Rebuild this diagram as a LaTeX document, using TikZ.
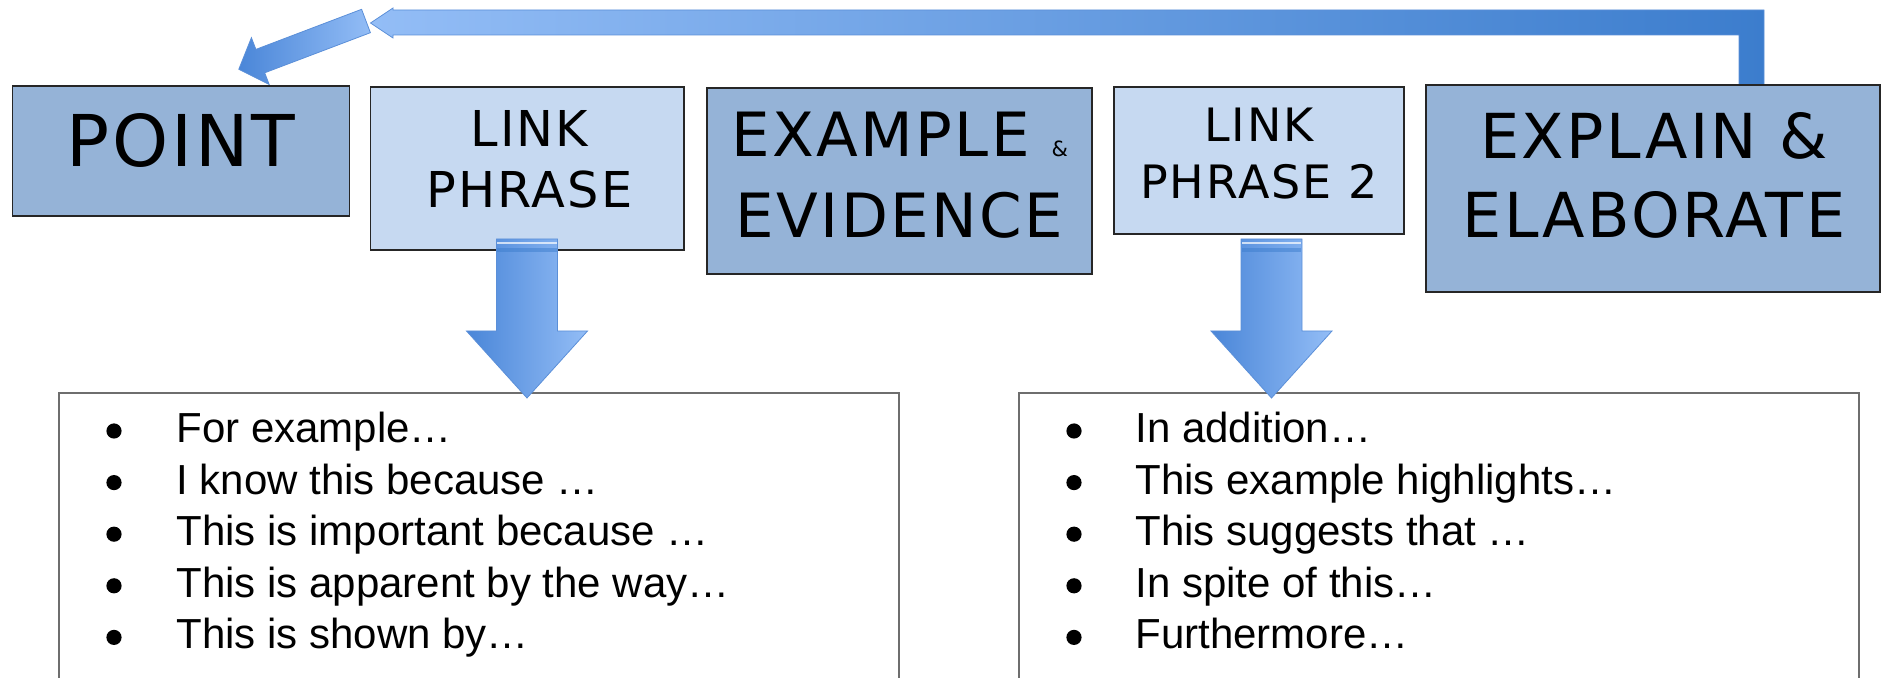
\documentclass[tikz,border=0pt]{standalone}
\usepackage{fontspec}
\setmainfont{Liberation Sans}
\newfontfamily\headfont{DejaVu Sans}[LetterSpace=4.0]
\definecolor{midblue}{HTML}{95B3D7}
\definecolor{lightblue}{HTML}{C6D9F1}
\definecolor{boxline}{HTML}{262626}
\definecolor{listline}{HTML}{6E6E6E}
\definecolor{arrowlight}{HTML}{93BDF6}
\definecolor{arrowdark}{HTML}{3C7DCD}
\definecolor{arrowmid}{HTML}{4A86D8}
\definecolor{arrowedge}{HTML}{5B8FD8}
\begin{document}
\begin{tikzpicture}[x=0.5pt,y=-0.5pt,
  midbox/.style={draw=boxline,line width=0.75pt,fill=midblue,inner sep=0pt},
  lightbox/.style={draw=boxline,line width=0.75pt,fill=lightblue,inner sep=0pt},
  headtxt/.style={align=center,inner sep=0pt},
  listbox/.style={draw=listline,line width=0.6pt,fill=white,inner sep=0pt,
    minimum width=420pt,minimum height=153.5pt},
  listtxt/.style={anchor=north west,inner sep=0pt,font=\fontsize{21}{25.8}\selectfont},
  blockarrow/.style={draw=arrowedge,line width=0.4pt}]
\useasboundingbox (0,0) rectangle (1886,678);
  % return arrow from explain back to point
  \draw[blockarrow,left color=arrowlight,right color=arrowdark]
    (1739,86) -- (1739,35) -- (393,35) -- (393,38) -- (370.5,23)
    -- (393,8) -- (393,10) -- (1764,10) -- (1764,86) -- cycle;
  \draw[blockarrow,left color=arrowmid,right color=arrowlight]
    (361.6,9.3) -- (370.4,32.7) -- (264.7,72.8) -- (269.2,84.5)
    -- (238.8,69.3) -- (251.4,37.7) -- (255.9,49.4) -- cycle;
  % top row
  \node[midbox,minimum width=168.5pt,minimum height=65pt] (point) at (181,151) {};
  \node[lightbox,minimum width=156.75pt,minimum height=81.5pt] (link1) at (527.25,168.5) {};
  \node[midbox,minimum width=192.5pt,minimum height=93pt] (example) at (899.5,181) {};
  \node[lightbox,minimum width=145pt,minimum height=73.5pt] (link2) at (1259,160.5) {};
  \node[midbox,minimum width=227pt,minimum height=103.5pt] (explain) at (1653,188.5) {};
  \node[headtxt,font=\headfont\fontsize{35.7}{42}\selectfont] (pointtxt) at (181,141) {POINT};
  \node[headtxt,font=\headfont\fontsize{24.7}{30.5}\selectfont] (link1txt) at (529.5,159)
    {LINK\\PHRASE};
  \node[headtxt,font=\headfont\fontsize{30.5}{40.5}\selectfont] (exampletxt) at (899.5,175.5)
    {EXAMPLE {\fontsize{10.5}{12}\selectfont\&}\\EVIDENCE};
  \node[headtxt,font=\headfont\fontsize{23}{28.5}\selectfont] (link2txt) at (1259,154)
    {LINK\\PHRASE 2};
  \node[headtxt,font=\headfont\fontsize{31}{39.5}\selectfont] (explaintxt) at (1654,175)
    {EXPLAIN \&\\ELABORATE};
  % phrase lists
  \node[listbox] (list1) at (479,546.5) {};
  \node[listbox] (list2) at (1439,546.5) {};
  \foreach \k in {0,...,4} {
    \fill (114,431+51.6*\k) circle (3.8pt);
    \fill (1074,431+51.6*\k) circle (3.8pt);
  }
  \node[listtxt] (list1txt) at (176,405.9) {\begin{tabular}{@{}l@{}}
    For example… \\
    I know this because … \\
    This is important because … \\
    This is apparent by the way… \\
    This is shown by…
  \end{tabular}};
  \node[listtxt] (list2txt) at (1135,405.9) {\begin{tabular}{@{}l@{}}
    In addition… \\
    This example highlights… \\
    This suggests that … \\
    In spite of this… \\
    Furthermore…
  \end{tabular}};
  % down arrows
  \draw[blockarrow,left color=arrowmid,right color=arrowlight]
    (496.5,239) -- (557.5,239) -- (557.5,331) -- (587.5,331) -- (527,398)
    -- (466.5,331) -- (496.5,331) -- cycle;
  \draw[white,opacity=.7,line width=0.6pt] (497,243) -- (557,243);
  \draw[arrowdark,opacity=.5,line width=2pt] (497,250) -- (557,250);
  \draw[blockarrow,left color=arrowmid,right color=arrowlight]
    (1241,239) -- (1302,239) -- (1302,331) -- (1332,331) -- (1271.5,398)
    -- (1211,331) -- (1241,331) -- cycle;
  \draw[white,opacity=.7,line width=0.6pt] (1242,243) -- (1301,243);
  \draw[arrowdark,opacity=.5,line width=2pt] (1242,250) -- (1301,250);
\end{tikzpicture}
\end{document}
